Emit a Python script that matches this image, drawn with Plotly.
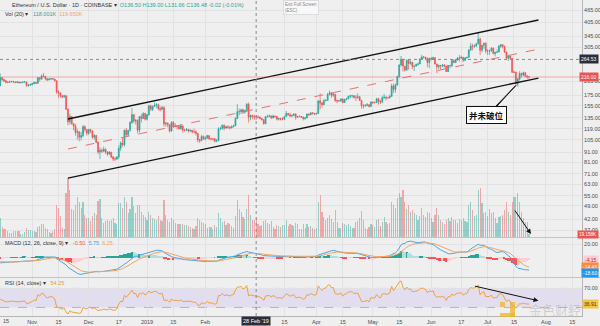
import numpy as np
import pandas as pd
import plotly.graph_objects as go

# ---------------- data ----------------
first_date = "2018-10-15"
first_open = 195.0

close_oct = [214, 210, 207, 203, 203, 205, 205, 204, 203, 204, 202, 203, 204, 204, 196, 197, 198]
high_oct = [225, 216, 212, 209, 206, 207, 207, 207, 205, 206, 205, 204, 205, 206, 204, 199, 200]
low_oct = [195, 206, 204, 201, 201, 202, 203, 202, 201, 202, 201, 201, 202, 202, 193, 193, 195]

close_nov = [200, 203, 201, 214, 211, 219, 218, 212, 209, 211, 212, 211, 207, 182, 180, 174, 172, 174, 149, 129,
             137, 126, 123, 114, 115, 108, 110, 122, 118, 113]
high_nov = [202, 205, 204, 216, 215, 222, 226, 218, 213, 213, 213, 213, 211, 207, 185, 180, 175, 176, 175, 151,
            142, 138, 127, 126, 119, 116, 115, 124, 124, 118]
low_nov = [196, 199, 199, 200, 205, 209, 215, 208, 206, 208, 209, 209, 205, 178, 170, 170, 169, 170, 148, 124,
           125, 125, 117, 110, 105, 103, 104, 108, 115, 110]

close_dec = [118, 116, 108, 110, 102, 91, 93, 92, 94, 91, 89, 91, 86, 84, 84, 86, 95, 101, 99, 117,
             111, 117, 128, 140, 130, 131, 117, 137, 134, 142, 133]
high_dec = [119, 119, 117, 112, 111, 103, 96, 95, 97, 95, 92, 92, 91, 87, 86, 87, 98, 103, 107, 118,
            120, 117, 130, 151, 141, 133, 133, 137, 141, 144, 143]
low_dec = [111, 113, 106, 105, 101, 89, 84, 90, 91, 89, 87, 88, 85, 82, 82, 83, 84, 92, 97, 97,
           108, 109, 115, 126, 127, 125, 113, 114, 128, 133, 131]

close_jan = [140, 155, 149, 154, 156, 157, 150, 149, 152, 126, 127, 125, 116, 128, 122, 123, 122, 119, 123, 117,
             117, 118, 116, 117, 115, 115, 113, 105, 104, 109, 106]
high_jan = [141, 157, 157, 156, 161, 160, 159, 154, 155, 154, 129, 128, 125, 130, 130, 127, 124, 124, 126, 124,
            119, 120, 119, 118, 117, 119, 117, 113, 106, 111, 110]
low_jan = [131, 138, 146, 146, 153, 151, 147, 146, 148, 122, 122, 121, 114, 115, 120, 121, 118, 118, 118, 114,
           115, 116, 114, 115, 113, 113, 110, 102, 101, 103, 105]

close_feb = [107, 110, 106, 106, 106, 103, 104, 119, 119, 124, 120, 122, 121, 120, 122, 123, 134, 145, 145, 148,
             144, 147, 158, 136, 139, 137, 136.50, 136.48]
high_feb = [109, 111, 110, 107, 107, 107, 106, 121, 122, 125, 125, 123, 124, 123, 124, 125, 136, 158, 150, 150,
            150, 148, 160, 161, 140, 140, 140, 139.00]
low_feb = [104, 106, 105, 104, 104, 102, 102, 103, 117, 118, 117, 119, 119, 118, 120, 121, 123, 133, 139, 141,
           141, 142, 145, 128, 131, 133, 132, 131.66]

close_mar = [136, 134, 132, 126, 137, 137, 138, 135, 138, 137, 133, 134, 133, 133, 137, 142, 140, 138, 139, 141,
             136, 137, 137, 136, 134, 135, 141, 140, 143, 142, 141]
high_mar = [139, 137, 135, 133, 138, 140, 140, 139, 140, 138, 138, 135, 135, 136, 138, 146, 143, 143, 140, 142,
            142, 138, 139, 138, 137, 136, 142, 142, 144, 144, 143]
low_mar = [134, 133, 131, 125, 126, 135, 136, 133, 134, 135, 131, 131, 131, 131, 132, 137, 138, 136, 136, 138,
           132, 135, 136, 135, 131, 132, 134, 138, 139, 140, 139]

close_apr = [142, 164, 160, 157, 165, 165, 177, 180, 175, 177, 165, 164, 164, 168, 161, 167, 168, 173, 174, 174,
             171, 171, 172, 165, 155, 155, 156, 157, 154, 162]
high_apr = [143, 166, 179, 162, 168, 167, 180, 185, 181, 180, 178, 166, 166, 168, 168, 168, 170, 174, 176, 176,
            175, 176, 179, 173, 166, 158, 158, 160, 158, 163]
low_apr = [140, 141, 149, 152, 157, 163, 164, 175, 170, 172, 162, 160, 162, 162, 160, 160, 165, 167, 169, 170,
           168, 164, 168, 164, 150, 150, 153, 154, 152, 153]

close_may = [161, 161, 168, 163, 162, 170, 171, 170, 170, 173, 195, 187, 197, 217, 248, 265, 245, 234, 262, 252,
             256, 244, 245, 250, 251, 266, 272, 271, 267, 255, 268]
high_may = [163, 163, 170, 170, 166, 174, 178, 174, 172, 176, 200, 200, 201, 219, 250, 275, 265, 245, 265, 264,
            262, 257, 246, 252, 255, 268, 279, 275, 273, 271, 269]
low_may = [158, 159, 160, 157, 158, 160, 168, 165, 168, 169, 172, 180, 180, 195, 214, 244, 230, 230, 232, 235,
           249, 236, 232, 243, 246, 252, 265, 267, 262, 242, 239]

close_jun = [265, 270, 251, 243, 247, 245, 248, 245, 230, 247, 246, 261, 255, 263, 269, 268, 271, 262, 269, 271,
             295, 309, 307, 310, 317, 334, 294, 311, 319, 291]
high_jun = [272, 273, 271, 252, 249, 248, 251, 250, 246, 248, 248, 264, 265, 266, 271, 278, 276, 272, 271, 272,
            297, 320, 317, 314, 320, 362, 340, 312, 321, 322]
low_jun = [262, 264, 250, 226, 237, 236, 242, 241, 229, 229, 239, 242, 253, 254, 261, 258, 267, 256, 259, 267,
           270, 292, 294, 303, 305, 314, 278, 287, 299, 284]

close_jul = [292, 292, 301, 283, 287, 288, 308, 313, 307, 288, 268, 275, 268, 228, 228, 199, 211, 225, 221, 227,
             219, 216, 216]
high_jul = [297, 296, 305, 303, 289, 296, 313, 316, 314, 310, 289, 279, 278, 266, 233, 230, 214, 231, 227, 230,
            228, 220, 219]
low_jul = [278, 279, 288, 280, 274, 285, 288, 302, 300, 285, 263, 260, 265, 227, 226, 199, 193, 207, 215, 218,
           215, 212, 212]

# volume in thousands of ETH
vol_oct = [115, 60, 48, 45, 35, 23, 25, 35, 38, 35, 33, 20, 18, 30, 55, 40, 43]
vol_nov = [35, 38, 28, 60, 65, 75, 80, 55, 48, 28, 25, 38, 45, 190, 170, 125, 55, 50, 260, 350,
           280, 165, 160, 190, 240, 210, 175, 210, 130, 115]
vol_dec = [115, 95, 125, 140, 130, 215, 225, 115, 85, 95, 100, 95, 100, 110, 85, 80, 200, 200, 175, 240,
           210, 140, 165, 240, 185, 140, 190, 190, 150, 130, 120]
vol_jan = [100, 150, 130, 110, 105, 100, 125, 100, 95, 220, 130, 100, 90, 115, 100, 85, 75, 75, 80, 80,
           70, 70, 65, 60, 55, 50, 65, 110, 100, 90, 85]
vol_feb = [80, 55, 60, 60, 50, 70, 60, 145, 110, 90, 95, 70, 85, 75, 65, 55, 125, 220, 165, 150,
           120, 105, 165, 250, 130, 100, 100, 118.001]
vol_mar = [80, 65, 70, 95, 100, 85, 75, 95, 60, 50, 70, 65, 60, 70, 70, 100, 65, 75, 70, 65,
           85, 75, 50, 45, 75, 55, 80, 60, 65, 55, 50]
vol_apr = [55, 210, 250, 150, 120, 100, 110, 130, 105, 90, 160, 90, 55, 55, 85, 80, 70, 75, 65, 55,
           55, 90, 95, 110, 155, 100, 55, 50, 60, 75]
vol_may = [70, 60, 100, 105, 65, 90, 120, 90, 75, 85, 210, 190, 175, 230, 260, 240, 280, 210, 165, 190,
           150, 160, 140, 130, 100, 125, 170, 130, 120, 150, 140]
vol_jun = [115, 90, 130, 170, 130, 100, 90, 75, 100, 110, 95, 120, 100, 100, 85, 105, 100, 115, 95, 90,
           190, 210, 160, 125, 130, 280, 290, 200, 140, 150]
vol_jul = [125, 165, 145, 150, 110, 85, 120, 125, 130, 160, 210, 150, 130, 210, 240, 240, 260, 205, 150, 110,
           90, 90, 19.158]

# closes before the visible window (Sep 1 - Oct 14, 2018), only for indicator warm-up
warmup_closes = [295, 295, 289, 285, 229, 229, 216, 197, 197, 198, 185, 183, 211, 210, 222, 219, 197, 209, 210, 225,
                 248, 241, 245, 229, 219, 215, 229, 222, 231, 232, 230, 227, 220, 222, 227, 225, 227, 229, 227, 225,
                 189, 196, 196, 195]

# drawn trend channel (endpoints)
channel_dates = ["2018-11-20", "2019-07-28"]
channel_upper = [133.2, 416.4]
channel_mid = [94.3, 297.8]
channel_lower = [67.5, 213.5]

crosshair_date = "2019-02-28"
crosshair_price = 264.53

price_ticks = [525, 465, 405, 345, 305, 205, 175, 155, 135, 119, 105, 91, 81, 71, 63, 55, 49, 42, 37]
x_tick_dates = ["2018-11-01", "2018-11-15", "2018-12-01", "2018-12-17", "2019-01-01", "2019-01-15",
                "2019-02-01", "2019-03-15", "2019-04-01", "2019-04-15", "2019-05-01",
                "2019-05-15", "2019-06-01", "2019-06-17", "2019-07-01", "2019-07-15", "2019-08-01", "2019-08-15"]
x_tick_text = ["Nov", "15", "Dec", "17", "2019", "15", "Feb", "15", "Apr", "15", "May",
               "15", "Jun", "17", "Jul", "15", "Aug", "15"]
first_tick_text = "15"

# ---------------- assemble ----------------
closes = close_oct + close_nov + close_dec + close_jan + close_feb + close_mar + close_apr + close_may + close_jun + close_jul
highs = high_oct + high_nov + high_dec + high_jan + high_feb + high_mar + high_apr + high_may + high_jun + high_jul
lows = low_oct + low_nov + low_dec + low_jan + low_feb + low_mar + low_apr + low_may + low_jun + low_jul
volumes = vol_oct + vol_nov + vol_dec + vol_jan + vol_feb + vol_mar + vol_apr + vol_may + vol_jun + vol_jul
n = min(len(closes), len(highs), len(lows), len(volumes))
closes, highs, lows, volumes = closes[:n], highs[:n], lows[:n], volumes[:n]
dates = pd.date_range(first_date, periods=n, freq="D")
opens = [first_open] + closes[:-1]
highs = [max(h, o, c) for h, o, c in zip(highs, opens, closes)]
lows = [min(l, o, c) for l, o, c in zip(lows, opens, closes)]

allc = pd.Series(warmup_closes + closes, dtype=float)
ema12 = allc.ewm(span=12, adjust=False).mean()
ema26 = allc.ewm(span=26, adjust=False).mean()
macd_all = ema12 - ema26
sig_all = macd_all.ewm(span=9, adjust=False).mean()
k0 = len(warmup_closes)
macd = macd_all.values[k0:]
signal = sig_all.values[k0:]
hist = macd - signal
d = allc.diff()
ag = d.clip(lower=0).ewm(alpha=1 / 14, adjust=False).mean()
al = (-d.clip(upper=0)).ewm(alpha=1 / 14, adjust=False).mean()
rsi = (100 - 100 / (1 + ag / al)).values[k0:]

UP, DN = "#26a69a", "#ef5350"
BG = "#efeff0"
GRID = "#e2e2e5"
TXT = "#4a4a4a"
FONT = "Liberation Sans, Arial, sans-serif"

PW, PH = 582, 316           # plot area in px (margins r=18, b=10)
def py(px):
    return 1 - px / PH
def px_x(px):
    return pd.Timestamp("2019-01-01") + pd.Timedelta(days=(px - 147) / 1.882)

xr = [px_x(0), px_x(PW)]
P_LO, P_HI = 1.5345, 2.7195     # log10 price range
V_TOP = 1406
M_LO, M_HI = -29, 29
R_LO, R_HI = 12, 92

fig = go.Figure()

# volume (behind candles)
vcol = ["rgba(38,166,154,0.45)" if c >= o else "rgba(239,83,80,0.45)" for o, c in zip(opens, closes)]
fig.add_trace(go.Bar(x=dates, y=volumes, marker=dict(color=vcol, line=dict(width=0)),
                     width=0.62 * 86400000, yaxis="y", xaxis="x", hoverinfo="skip"))

# candles
fig.add_trace(go.Candlestick(x=dates, open=opens, high=highs, low=lows, close=closes, yaxis="y2", xaxis="x",
                             increasing=dict(line=dict(color=UP, width=0.7), fillcolor=UP),
                             decreasing=dict(line=dict(color=DN, width=0.7), fillcolor=DN),
                             whiskerwidth=0, hoverinfo="skip"))

# channel lines
fig.add_trace(go.Scatter(x=channel_dates, y=channel_upper, mode="lines", yaxis="y2",
                         line=dict(color="#111", width=1.3), hoverinfo="skip"))
fig.add_trace(go.Scatter(x=channel_dates, y=channel_lower, mode="lines", yaxis="y2",
                         line=dict(color="#111", width=1.3), hoverinfo="skip"))
fig.add_trace(go.Scatter(x=channel_dates, y=channel_mid, mode="lines", yaxis="y2",
                         line=dict(color="#e57373", width=1, dash="dash"), hoverinfo="skip"))

# current price line & crosshair horizontal line
fig.add_trace(go.Scatter(x=xr, y=[closes[-1]] * 2, mode="lines", yaxis="y2",
                         line=dict(color="rgba(239,83,80,0.45)", width=1), hoverinfo="skip"))
fig.add_trace(go.Scatter(x=xr, y=[crosshair_price] * 2, mode="lines", yaxis="y2",
                         line=dict(color="#8a8a8a", width=1, dash="dot"), hoverinfo="skip"))

# MACD
hcol = []
for i, h in enumerate(hist):
    prev = hist[i - 1] if i > 0 else h
    if h >= 0:
        hcol.append("#26a69a" if h >= prev else "#b2dfdb")
    else:
        hcol.append("#ff5252" if h <= prev else "#ffcdd2")
fig.add_trace(go.Bar(x=dates, y=hist, marker=dict(color=hcol, line=dict(width=0)), width=0.7 * 86400000,
                     yaxis="y3", xaxis="x", hoverinfo="skip"))
fig.add_trace(go.Scatter(x=dates, y=macd, mode="lines", line=dict(color="#4aa3e8", width=1), yaxis="y3",
                         hoverinfo="skip"))
fig.add_trace(go.Scatter(x=dates, y=signal, mode="lines", line=dict(color="#f4a460", width=1), yaxis="y3",
                         hoverinfo="skip"))

# RSI
fig.add_trace(go.Scatter(x=dates, y=rsi, mode="lines", line=dict(color="#f0a040", width=1), yaxis="y4",
                         hoverinfo="skip"))

axis_common = dict(showgrid=True, gridcolor=GRID, gridwidth=1, zeroline=False, ticks="",
                   tickfont=dict(size=5.5, color=TXT, family=FONT), showline=True, linecolor="#b5b5b8",
                   linewidth=1, fixedrange=True)

fig.update_layout(
    width=600, height=326, autosize=False,
    margin=dict(l=0, r=18, t=0, b=10, pad=0),
    paper_bgcolor=BG, plot_bgcolor=BG, showlegend=False,
    font=dict(family=FONT, size=6, color=TXT),
    bargap=0,
    xaxis=dict(type="date", range=xr, anchor="y4", tickvals=x_tick_dates, ticktext=x_tick_text,
               rangeslider=dict(visible=False), **axis_common),
    yaxis=dict(domain=[py(237), 1], range=[0, V_TOP], visible=False, fixedrange=True),
    yaxis2=dict(overlaying="y", side="right", type="log", range=[P_LO, P_HI], anchor="x",
                tickvals=price_ticks, ticktext=[f"{v:.2f}" for v in price_ticks], **axis_common),
    yaxis3=dict(domain=[py(277), py(238)], range=[M_LO, M_HI], side="right", anchor="x",
                tickvals=[20], ticktext=["20.00"], **axis_common),
    yaxis4=dict(domain=[0, py(278)], range=[R_LO, R_HI], side="right", anchor="x",
                tickvals=[70], ticktext=["70.00"], **axis_common),
)

shapes = []
# RSI band
shapes.append(dict(type="rect", xref="paper", yref="y4", x0=0, x1=1, y0=30, y1=70,
                   fillcolor="rgba(150,110,230,0.13)", line=dict(width=0), layer="below"))
for lv in (70, 30):
    shapes.append(dict(type="line", xref="paper", yref="y4", x0=0, x1=1, y0=lv, y1=lv,
                       line=dict(color="#b8b0c8", width=1, dash="dash"), layer="below"))
# pane separators
for ypx in (237.5, 277.5):
    shapes.append(dict(type="line", xref="paper", yref="paper", x0=0, x1=600 / PW, y0=py(ypx), y1=py(ypx),
                       line=dict(color="#c4c4c8", width=1)))
# vertical crosshair
shapes.append(dict(type="line", xref="x", yref="paper", x0=crosshair_date, x1=crosshair_date, y0=0, y1=1,
                   line=dict(color="#8a8a8a", width=1, dash="dot")))
# watermark logo
LG = "rgba(240,180,40,0.75)"
def prect(x0, x1, y0, y1):
    return dict(type="rect", xref="paper", yref="paper", x0=x0 / PW, x1=x1 / PW, y0=py(y1), y1=py(y0),
                fillcolor=LG, line=dict(width=0))
shapes += [prect(500, 505, 302, 307), prect(510, 515, 302, 317), prect(500, 515, 313, 317)]
fig.update_layout(shapes=shapes)

ann = []
def lab(text, ypaper, bg, fc="white", size=5):
    ann.append(dict(xref="paper", yref="paper", x=599.5 / PW, y=ypaper, xanchor="right", yanchor="middle",
                    text=text, showarrow=False, bgcolor=bg, font=dict(size=size, color=fc, family=FONT),
                    borderpad=1))

def price_py(v):
    return (P_HI - np.log10(v)) / (P_HI - P_LO) * 237

# first x tick label (at the left edge)
ann.append(dict(xref="paper", yref="paper", x=1 / PW, y=py(321), xanchor="left", yanchor="middle",
                text=first_tick_text, showarrow=False, font=dict(size=5.5, color=TXT, family=FONT)))

# header lines
fi = list(dates).index(pd.Timestamp(crosshair_date))
o, h, l, c = opens[fi], highs[fi], lows[fi], closes[fi]
chg = c - closes[fi - 1]
hdr = (f'<span style="color:#333">Ethereum / U.S. Dollar · 1D · COINBASE ▾</span>  '
       f'<span style="color:#26a69a">O{o:.2f} H{h:.2f} L{l:.2f} C{c:.2f} {chg:+.2f} ({chg / closes[fi - 1] * 100:+.2f}%)</span>')
ann.append(dict(xref="paper", yref="paper", x=10 / PW, y=py(5.5), xanchor="left", yanchor="middle",
                text=hdr, showarrow=False, font=dict(size=5.5, family=FONT)))
vma = float(np.mean(volumes[fi - 19:fi + 1]))
hdr2 = (f'<span style="color:#333">Vol (20) ▾</span>   '
        f'<span style="color:#26a69a">{volumes[fi]:.3f}K</span>  <span style="color:#f4a460">{vma:.3f}K</span>')
ann.append(dict(xref="paper", yref="paper", x=3 / PW, y=py(14), xanchor="left", yanchor="middle",
                text=hdr2, showarrow=False, font=dict(size=5.5, family=FONT)))
hdr3 = (f'<span style="color:#333">MACD (12, 26, close, 9) ▾</span>   '
        f'<span style="color:#ef5350">{hist[fi]:.2f}</span>  <span style="color:#4aa3e8">{macd[fi]:.2f}</span>  '
        f'<span style="color:#f4a460">{signal[fi]:.2f}</span>')
ann.append(dict(xref="paper", yref="paper", x=3 / PW, y=py(243), xanchor="left", yanchor="middle",
                text=hdr3, showarrow=False, font=dict(size=5.5, family=FONT)))
hdr4 = (f'<span style="color:#333">RSI (14, close) ▾</span>   '
        f'<span style="color:#e0a020">{rsi[fi]:.2f}</span>')
ann.append(dict(xref="paper", yref="paper", x=3 / PW, y=py(283), xanchor="left", yanchor="middle",
                text=hdr4, showarrow=False, font=dict(size=5.5, family=FONT)))

# exit full screen tooltip
ann.append(dict(xref="paper", yref="paper", x=283 / PW, y=1, xanchor="left", yanchor="top",
                text="Exit Full Screen<br>(ESC)", showarrow=False, align="left", bgcolor="#f8f8f8",
                bordercolor="#dcdcdc", borderwidth=1, borderpad=1, font=dict(size=4.5, color="#888", family=FONT)))

# right-side value labels
lab(f"{crosshair_price:.2f}", py(price_py(crosshair_price)), "#2a2e39")
lab(f"{closes[-1]:.2f}", py(price_py(closes[-1])), "#ef5350")
lab(f"{volumes[-1]:.3f}K", py(234.5), "#ef5350", size=4.6)

def macd_py(v):
    return 238 + (M_HI - v) / (M_HI - M_LO) * 39
items = sorted([(macd_py(hist[-1]), f"{hist[-1]:.2f}", "#ffcdd2", "#c62828"),
                (macd_py(signal[-1]), f"{signal[-1]:.2f}", "#ff8a3d", "white"),
                (macd_py(macd[-1]), f"{macd[-1]:.2f}", "#2196f3", "white")])
lastp = -99
for yp, t, bg, fc in items:
    yp = max(yp, lastp + 5.6)
    lastp = yp
    lab(t, py(yp), bg, fc)
rsi_py = 278 + (R_HI - rsi[-1]) / (R_HI - R_LO) * 38
lab(f"{rsi[-1]:.2f}", py(rsi_py), "#f5c542", "#333")

# crosshair date label
ann.append(dict(xref="x", yref="paper", x=crosshair_date, y=py(321), xanchor="center", yanchor="middle",
                text="28 Feb '19", showarrow=False, bgcolor="#2a2e39", borderpad=1,
                font=dict(size=5.5, color="white", family=FONT)))

# callout
call_date = "2019-07-16"
call_y = np.log10(196)
ann.append(dict(xref="x", yref="y2", x=call_date, y=call_y, ax=-29, ay=30, text="<b>并未破位</b>",
                showarrow=True, arrowhead=0, arrowwidth=1, arrowcolor="#111", bgcolor="white",
                bordercolor="#111", borderwidth=1, borderpad=2,
                font=dict(size=8.5, color="#111", family="Noto Sans CJK SC")))
ann.append(dict(xref="x", yref="y2", x=call_date, y=call_y, ax=-21, ay=23, text="",
                showarrow=True, arrowhead=0, arrowwidth=1, arrowcolor="#111"))

# arrows
ann.append(dict(xref="x", yref="y", x="2019-07-24", y=V_TOP * 3 / 237, ax=-17, ay=-25, text="",
                showarrow=True, arrowhead=2, arrowsize=1, arrowwidth=1, arrowcolor="#111"))
ann.append(dict(xref="x", yref="y4", x="2019-07-28", y=44, ax=-65, ay=-15, text="",
                showarrow=True, arrowhead=2, arrowsize=1, arrowwidth=1, arrowcolor="#111"))

# watermark text
ann.append(dict(xref="paper", yref="paper", x=555 / PW, y=py(309.5), xanchor="center", yanchor="middle",
                text="金色财经", showarrow=False,
                font=dict(size=13, color="rgba(175,175,175,0.5)", family="Noto Sans CJK SC")))

fig.update_layout(annotations=ann)
fig.write_html("out.html")
